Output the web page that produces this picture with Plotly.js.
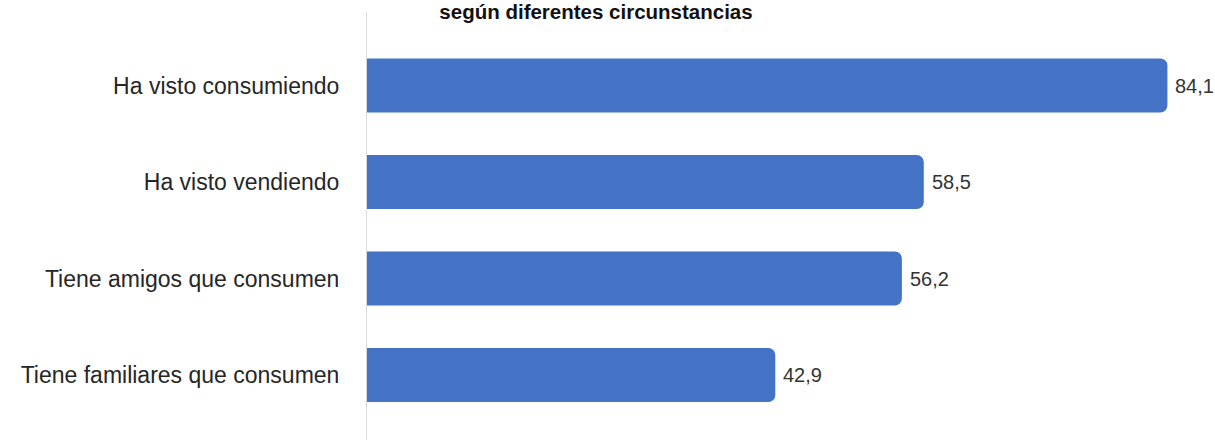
<!DOCTYPE html>
<html><head><meta charset="utf-8">
<script src="https://cdn.plot.ly/plotly-3.0.1.min.js"></script>
<style>html,body{margin:0;padding:0;background:#fff}#chart{width:1215px;height:440px}</style>
</head><body><div id="chart"></div>
<script>
const categories = ["Ha visto consumiendo", "Ha visto vendiendo", "Tiene amigos que consumen", "Tiene familiares que consumen"];
const values = [84.1, 58.5, 56.2, 42.9];
const valueLabels = ["84,1", "58,5", "56,2", "42,9"];
const titleText = "según diferentes circunstancias";

const trace = {
  type: "bar",
  orientation: "h",
  y: categories,
  x: values,
  cliponaxis: false,
  marker: {color: "#4472C4", cornerradius: 7, line: {width: 0}},
  width: 0.56,
  hoverinfo: "none"
};

const annotations = categories.map((c, i) => ({
  x: values[i], y: c, xref: "x", yref: "y",
  text: valueLabels[i], showarrow: false,
  xanchor: "left", yanchor: "middle", xshift: 6,
  font: {family: "Liberation Sans, Arial, sans-serif", size: 20, color: "#333333"}
}));

const layout = {
  width: 1215, height: 440,
  margin: {l: 367, r: 0, t: 12, b: 0, pad: 0},
  paper_bgcolor: "#ffffff", plot_bgcolor: "#ffffff",
  showlegend: false,
  annotations: annotations,
  title: {
    text: "<b>" + titleText + "</b>",
    font: {family: "Liberation Sans, Arial, sans-serif", size: 20.5, color: "#111111"},
    x: 596/1215, xanchor: "center", xref: "container",
    y: 1 - 12/440, yanchor: "middle", yref: "container"
  },
  xaxis: {
    range: [0, 89.1], showgrid: false, zeroline: false, showline: false,
    showticklabels: false, ticks: ""
  },
  yaxis: {
    range: [3.673, -0.762], showgrid: false, zeroline: false,
    showline: true, linecolor: "#d9d9d9", linewidth: 1,
    ticks: "", ticklabelstandoff: 22,
    tickfont: {family: "Liberation Sans, Arial, sans-serif", size: 23, color: "#262626"}
  }
};

Plotly.newPlot("chart", [trace], layout, {staticPlot: true, displayModeBar: false});
</script>
</body></html>
